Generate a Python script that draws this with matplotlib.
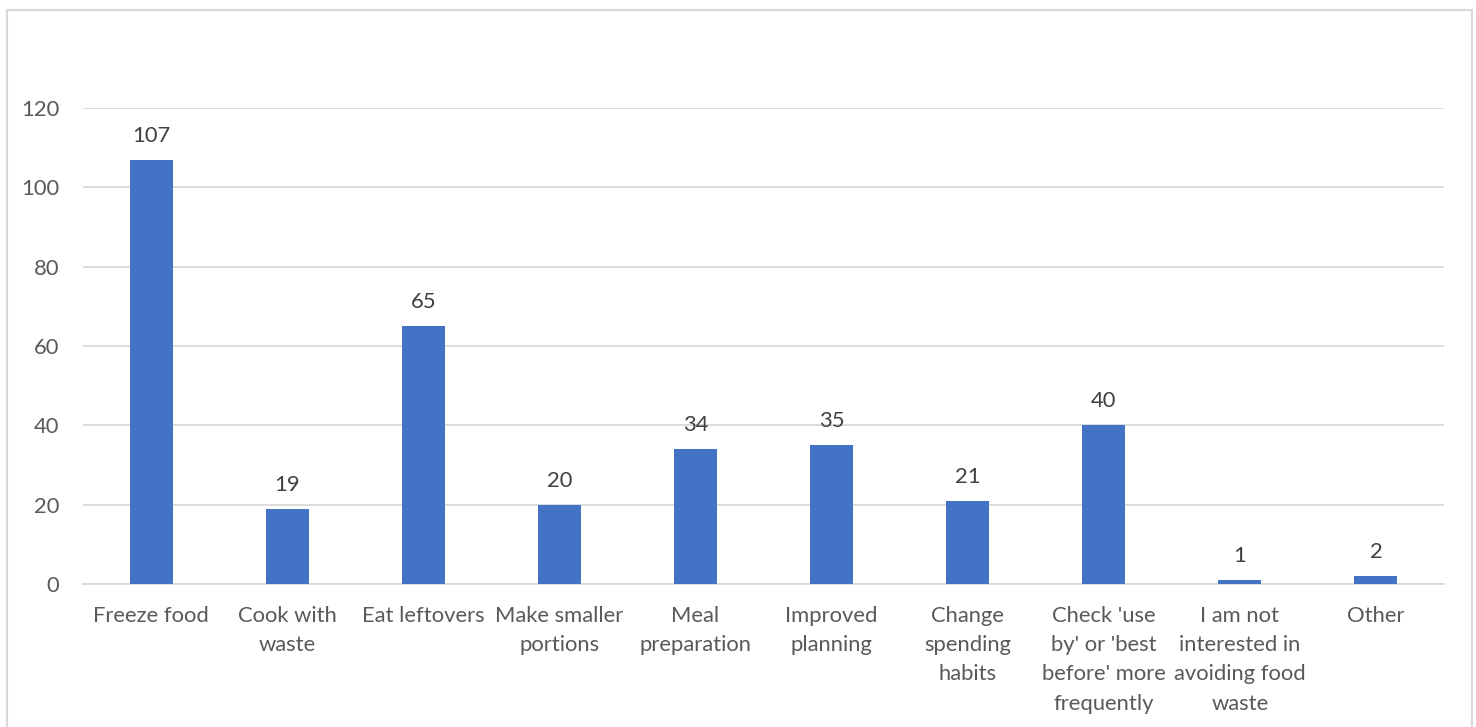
import matplotlib
matplotlib.use("Agg")
import matplotlib.pyplot as plt
from matplotlib.patches import Rectangle

categories = [
    "Freeze food", "Cook with\nwaste", "Eat leftovers", "Make smaller\nportions",
    "Meal\npreparation", "Improved\nplanning", "Change\nspending\nhabits",
    "Check 'use\nby' or 'best\nbefore' more\nfrequently",
    "I am not\ninterested in\navoiding food\nwaste", "Other",
]
counts = [107, 19, 65, 20, 34, 35, 21, 40, 1, 2]
y_ticks = [0, 20, 40, 60, 80, 100, 120]

BAR_COLOR = "#4472C4"
TEXT_COLOR = "#595959"
GRID_COLOR = "#D9D9D9"
FS = 15.8

plt.rcParams["font.family"] = ["Lato", "DejaVu Sans"]

W, H = 1476, 727
fig = plt.figure(figsize=(W / 100, H / 100), dpi=100)
fig.patch.set_facecolor("white")

# outer chart frame
fig.patches.append(Rectangle((7 / W, -0.01), (1472 - 7) / W, (H - 10) / H + 0.01,
                             transform=fig.transFigure, fill=False,
                             edgecolor=GRID_COLOR, linewidth=1.5))

ax = fig.add_axes([83 / W, (H - 584) / H, (1444 - 83) / W, (584 - 108) / H])
x = list(range(len(categories)))
ax.bar(x, counts, width=0.316, color=BAR_COLOR, zorder=3)
ax.set_xlim(-0.5, len(categories) - 0.5)
ax.set_ylim(0, 120)
ax.set_yticks(y_ticks)
ax.set_yticklabels([str(v) for v in y_ticks])
ax.yaxis.grid(True, color=GRID_COLOR, linewidth=1.3, zorder=0)
ax.set_axisbelow(True)
for s in ["top", "right", "left"]:
    ax.spines[s].set_visible(False)
ax.spines["bottom"].set_color(GRID_COLOR)
ax.spines["bottom"].set_linewidth(1.3)
ax.tick_params(axis="both", length=0, labelsize=FS, colors=TEXT_COLOR)
ax.tick_params(axis="y", pad=17)
ax.set_xticks(x)
ax.set_xticklabels(categories, linespacing=1.57, va="top")
ax.tick_params(axis="x", pad=16)

for xi, v in zip(x, counts):
    ax.annotate(str(v), (xi, v), xytext=(0, 10), textcoords="offset points",
                ha="center", va="bottom", fontsize=FS, color="#404040")

fig.savefig("out.png", dpi=100)
